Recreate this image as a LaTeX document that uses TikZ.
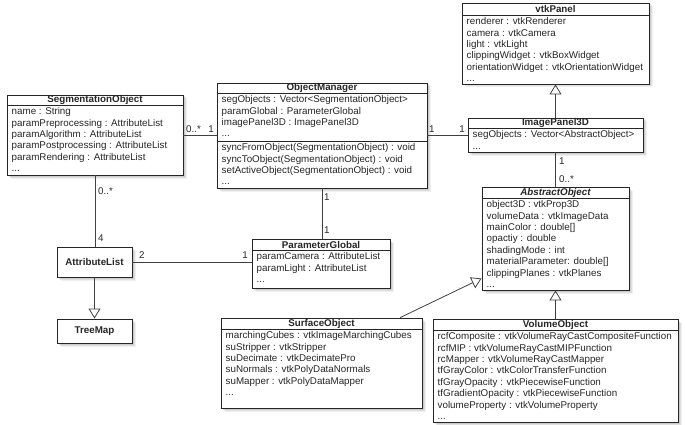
\documentclass[tikz,border=0pt]{standalone}
\usepackage{fontspec}
\setmainfont{Liberation Sans}
\usetikzlibrary{shadows,fit,calc,arrows.meta}
\newcommand\attrfont{\fontsize{9.8}{11.4}\selectfont}
\newcommand\ttlfont{\fontsize{9.8}{11.4}\selectfont\bfseries}
\begin{document}
\begin{tikzpicture}[x=1pt,y=-1pt,
  cls/.style={draw=black!85, line width=0.9pt, fill=white, inner sep=0pt,
    drop shadow={shadow xshift=3.5pt, shadow yshift=-3.5pt, opacity=0.12},
    drop shadow={shadow xshift=2.5pt, shadow yshift=-2.5pt, opacity=0.15},
    drop shadow={shadow xshift=1.5pt, shadow yshift=-1.5pt, opacity=0.2}},
  ttl/.style={font=\ttlfont, inner sep=0pt, text=black!85},
  attrs/.style={font=\attrfont, align=left, anchor=north west, inner sep=0pt, text=black!85},
  sep/.style={draw=black!85, line width=0.9pt},
  lnk/.style={draw=black!75, line width=0.8pt},
  gen/.style={lnk, -{Triangle[open, width=12pt, length=10pt]}},
  mult/.style={font=\attrfont, inner sep=0pt, text=black!85}]
\useasboundingbox (0,0) rectangle (685,425);

% vtkPanel
\coordinate (vp1) at (462,3); \coordinate (vp2) at (649,84);
\node[cls, fit=(vp1)(vp2)] (vtk) {};
\node[ttl] (vtkT) at (vtk.north |- 0,9.3) {vtkPanel};
\draw[sep] (vtk.west |- 0,15) -- (vtk.east |- 0,15);
\node[attrs] (vtkA) at (466.5,16.6) {\strut renderer : vtkRenderer\\camera : vtkCamera\\light : vtkLight\\clippingWidget : vtkBoxWidget\\orientationWidget : vtkOrientationWidget\\...};

% ImagePanel3D
\coordinate (ip1) at (468,118); \coordinate (ip2) at (643,152);
\node[cls, fit=(ip1)(ip2)] (ip) {};
\node[ttl] (ipT) at (ip.north |- 0,123.3) {ImagePanel3D};
\draw[sep] (ip.west |- 0,128) -- (ip.east |- 0,128);
\node[attrs] (ipA) at (472.5,129.6) {\strut segObjects : Vector<AbstractObject>\\...};

% ObjectManager
\coordinate (om1) at (217,83); \coordinate (om2) at (427,188);
\node[cls, fit=(om1)(om2)] (om) {};
\node[ttl] (omT) at (om.north |- 0,88.3) {ObjectManager};
\draw[sep] (om.west |- 0,93) -- (om.east |- 0,93);
\draw[sep] (om.west |- 0,141) -- (om.east |- 0,141);
\node[attrs] (omA) at (221.5,94.6) {\strut segObjects : Vector<SegmentationObject>\\paramGlobal : ParameterGlobal\\imagePanel3D : ImagePanel3D\\...};
\node[attrs] (omM) at (221.5,142.6) {\strut syncFromObject(SegmentationObject) : void\\syncToObject(SegmentationObject) : void\\setActiveObject(SegmentationObject) : void\\...};

% SegmentationObject
\coordinate (so1) at (7,95); \coordinate (so2) at (183,175);
\node[cls, fit=(so1)(so2)] (seg) {};
\node[ttl] (segT) at (seg.north |- 0,100.3) {SegmentationObject};
\draw[sep] (seg.west |- 0,105) -- (seg.east |- 0,105);
\node[attrs] (segA) at (11.5,106.6) {\strut name : String\\paramPreprocessing : AttributeList\\paramAlgorithm : AttributeList\\paramPostprocessing : AttributeList\\paramRendering : AttributeList\\...};

% AttributeList
\coordinate (al1) at (57,247); \coordinate (al2) at (132,277);
\node[cls, fit=(al1)(al2)] (al) {};
\node[ttl] (alT) at (al.center) {AttributeList};

% TreeMap
\coordinate (tm1) at (57,319); \coordinate (tm2) at (132,343);
\node[cls, fit=(tm1)(tm2)] (tm) {};
\node[ttl] (tmT) at (tm.center) {TreeMap};

% ParameterGlobal
\coordinate (pg1) at (252,239); \coordinate (pg2) at (390,288);
\node[cls, fit=(pg1)(pg2)] (pg) {};
\node[ttl] (pgT) at (pg.north |- 0,244.5) {ParameterGlobal};
\draw[sep] (pg.west |- 0,250) -- (pg.east |- 0,250);
\node[attrs] (pgA) at (256.5,251.6) {\strut paramCamera : AttributeList\\paramLight : AttributeList\\...};

% AbstractObject
\coordinate (ao1) at (482,187); \coordinate (ao2) at (629,290);
\node[cls, fit=(ao1)(ao2)] (ao) {};
\node[ttl] (aoT) at (ao.north |- 0,192.5) {\itshape AbstractObject};
\draw[sep] (ao.west |- 0,198) -- (ao.east |- 0,198);
\node[attrs] (aoA) at (486.5,199.6) {\strut object3D : vtkProp3D\\volumeData : vtkImageData\\mainColor : double[]\\opactiy : double\\shadingMode : int\\materialParameter: double[]\\clippingPlanes : vtkPlanes\\...};

% SurfaceObject
\coordinate (su1) at (221,318); \coordinate (su2) at (422,408);
\node[cls, fit=(su1)(su2)] (so) {};
\node[ttl] (soT) at (so.north |- 0,323.5) {SurfaceObject};
\draw[sep] (so.west |- 0,329) -- (so.east |- 0,329);
\node[attrs] (soA) at (225.5,330.6) {\strut marchingCubes : vtkImageMarchingCubes\\suStripper : vtkStripper\\suDecimate : vtkDecimatePro\\suNormals : vtkPolyDataNormals\\suMapper : vtkPolyDataMapper\\...};

% VolumeObject
\coordinate (vo1) at (433,319); \coordinate (vo2) at (678,422);
\node[cls, fit=(vo1)(vo2)] (vo) {};
\node[ttl] (voT) at (vo.north |- 0,324.5) {VolumeObject};
\draw[sep] (vo.west |- 0,330) -- (vo.east |- 0,330);
\node[attrs] (voA) at (437.5,331.6) {\strut rcfComposite : vtkVolumeRayCastCompositeFunction\\rcfMIP : vtkVolumeRayCastMIPFunction\\rcMapper : vtkVolumeRayCastMapper\\tfGrayColor : vtkColorTransferFunction\\tfGrayOpacity : vtkPiecewiseFunction\\tfGradientOpacity : vtkPiecewiseFunction\\volumeProperty : vtkVolumeProperty\\...};

% connectors
\draw[lnk] (seg.east) -- (seg.east -| om.west);
\draw[lnk] (om.east) -- (om.east -| ip.west);
\draw[lnk] (om.south) -- (om.south |- pg.north);
\draw[lnk] (seg.south) -- (seg.south |- al.north);
\draw[lnk] (al.east) -- (al.east -| pg.west);
\draw[gen] (al.south) -- (tm.north);
\draw[gen] (ip.north) -- (ip.north |- vtk.south);
\draw[lnk] (ip.south) -- (ip.south |- ao.north);
\draw[gen] (vo.north) -- (vo.north |- ao.south);
\coordinate (soTop) at ($(so.north west)!0.89!(so.north east)$);
\coordinate (aoIn) at ($(ao.south west)+(0,-12)$);
\draw[gen] (soTop) -- (aoIn);

% multiplicities
\node[mult, anchor=south west] (m1) at (186,132.5) {0..*};
\node[mult, anchor=south east] (m2) at (214,132.5) {1};
\node[mult, anchor=south west] (m3) at (429,132.5) {1};
\node[mult, anchor=south east] (m4) at (465,132.5) {1};
\node[mult, anchor=west] (m5) at (98,191) {0..*};
\node[mult, anchor=west] (m6) at (98,238) {4};
\node[mult, anchor=south west] (m7) at (139,258.5) {2};
\node[mult, anchor=south east] (m8) at (248,258.5) {1};
\node[mult, anchor=west] (m9) at (324,197) {1};
\node[mult, anchor=west] (m10) at (324,230) {1};
\node[mult, anchor=west] (m11) at (559,161) {1};
\node[mult, anchor=west] (m12) at (559,179) {0..*};
\end{tikzpicture}
\end{document}
